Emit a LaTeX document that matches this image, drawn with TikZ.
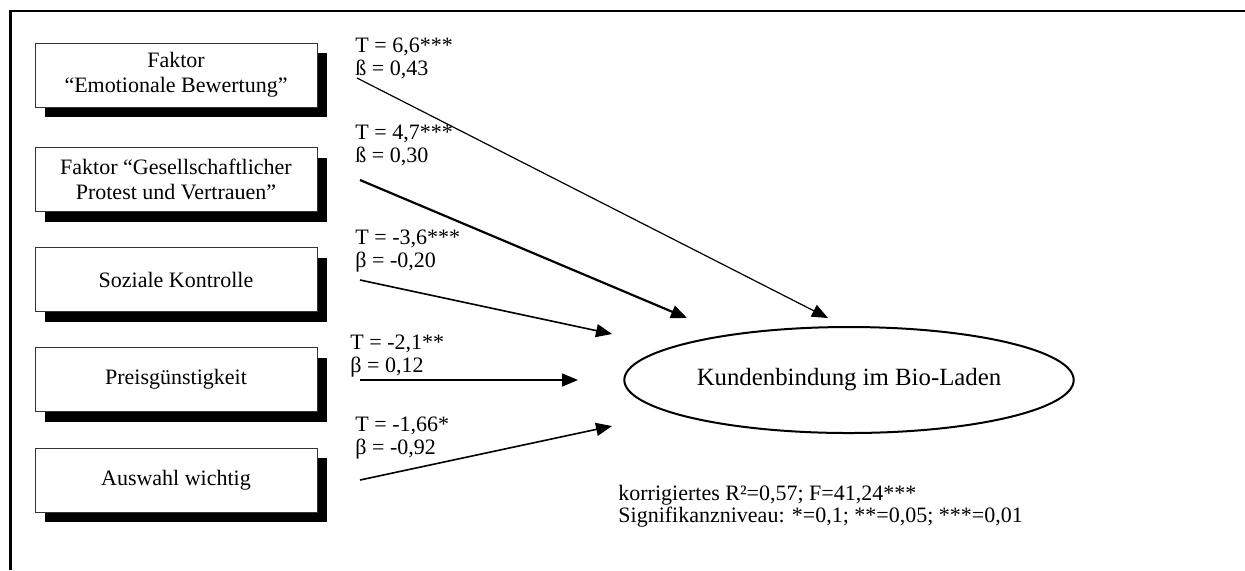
\documentclass[tikz,border=0pt]{standalone}
\usepackage{fontspec}
\setmainfont{Liberation Serif}
\usetikzlibrary{shapes.geometric,shadows,arrows.meta}

\begin{document}
\begin{tikzpicture}[x=0.5pt, y=-0.5pt,
    faktor/.style={draw=black!80, fill=white, line width=0.5pt,
      minimum width=141pt, minimum height=32pt, align=center,
      font=\fontsize{11}{12.5}\selectfont,
      drop shadow={shadow xshift=5pt, shadow yshift=-5pt, fill=black, opacity=1}},
    wert/.style={anchor=north west, inner sep=0pt, align=left,
      font=\fontsize{11}{11.5}\selectfont},
    pfeil/.style={line width=0.8pt, -{Triangle[length=8pt, width=6.5pt]}}]
  \useasboundingbox (0,0) rectangle (1245,570);
  % Rahmen
  \draw[line width=1.2pt] (1245,11) -- (10.5,11) -- (10.5,570);

  % Einflussfaktoren
  \node[faktor] (emo)   at (176,75)    {Faktor\\“Emotionale Bewertung”};
  \node[faktor] (prot)  at (176,179.5) {Faktor “Gesellschaftlicher\\Protest und Vertrauen”};
  \node[faktor] (sozk)  at (176,279.5) {Soziale Kontrolle};
  \node[faktor] (preis) at (176,379.5) {Preisgünstigkeit};
  \node[faktor] (ausw)  at (176,480)   {Auswahl wichtig};

  % Zielgroesse
  \node[draw, ellipse, line width=1pt, minimum width=222pt, minimum height=53pt,
        font=\fontsize{12.4}{14}\selectfont] (kb) at (849,380) {Kundenbindung im Bio-Laden};

  % Kennwerte
  \node[wert] (w1) at (355,38)  {T = 6,6***\\ß = 0,43};
  \node[wert] (w2) at (355,125) {T = 4,7***\\ß = 0,30};
  \node[wert] (w3) at (355,230) {T = -3,6***\\β = -0,20};
  \node[wert] (w4) at (350,335) {T = -2,1**\\β = 0,12};
  \node[wert] (w5) at (355,417) {T = -1,66*\\β = -0,92};

  \coordinate (s1) at (357,78);  \coordinate (e1) at (828,318);
  \coordinate (s2) at (360,180); \coordinate (e2) at (687,318);
  \coordinate (s3) at (360,280); \coordinate (e3) at (612,334);
  \coordinate (s4) at (360,380); \coordinate (e4) at (578,380);
  \coordinate (s5) at (360,480); \coordinate (e5) at (612,426);

  \draw[pfeil, line width=0.6pt] (s1) -- (e1);
  \draw[pfeil, line width=1.1pt] (s2) -- (e2);
  \draw[pfeil] (s3) -- (e3);
  \draw[pfeil] (s4) -- (e4);
  \draw[pfeil] (s5) -- (e5);

  % Modellguete
  \node[wert, font=\fontsize{11}{11}\selectfont] (guete) at (618,485)
    {korrigiertes R²=0,57; F=41,24***\\Signifikanzniveau: *=0,1; **=0,05; ***=0,01};
\end{tikzpicture}
\end{document}
